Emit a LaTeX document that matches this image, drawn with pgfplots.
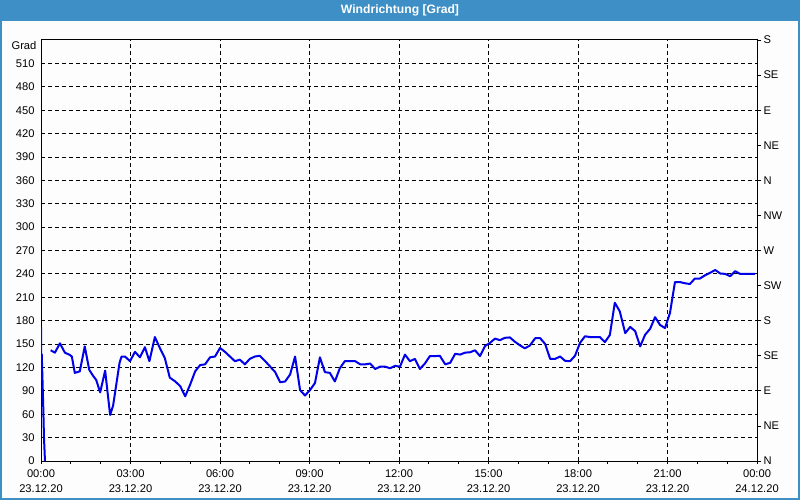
\documentclass[border=0pt]{standalone}
\usepackage{pgfplots}
\pgfplotsset{compat=1.18}
\usepackage{fontspec}
\setmainfont{Liberation Sans}
\definecolor{barblue}{RGB}{61,143,198}
\definecolor{lineblue}{RGB}{0,0,235}
\definecolor{bg}{RGB}{252,253,252}
\newcommand{\tfont}{\fontsize{11.2}{15.5}\selectfont}
\begin{document}
\begin{tikzpicture}
\useasboundingbox (0,0) rectangle (800bp,500bp);
\fill[bg] (0,0) rectangle (800bp,500bp);
\fill[barblue] (0,479bp) rectangle (800bp,500bp);
\draw[barblue, line width=2bp] (1bp,0) -- (1bp,480bp);
\draw[barblue, line width=2bp] (799bp,0) -- (799bp,480bp);
\draw[barblue, line width=2bp] (0,1bp) -- (800bp,1bp);
\node[text=white, font=\bfseries\fontsize{12.2}{14}\selectfont] at (400bp,489.5bp) {Windrichtung [Grad]};
\node[font=\tfont] at (24bp,454bp) {Grad};
\begin{axis}[
  at={(41bp,39bp)}, anchor=south west,
  scale only axis, width=716bp, height=421bp,
  xmin=0, xmax=1440, ymin=0, ymax=540,
  xtick={0,180,...,1440},
  minor xtick={60,120,...,1380},
  xticklabels={{00:00\\23.12.20},{03:00\\23.12.20},{06:00\\23.12.20},{09:00\\23.12.20},{12:00\\23.12.20},{15:00\\23.12.20},{18:00\\23.12.20},{21:00\\23.12.20},{00:00\\24.12.20}},
  xticklabel style={align=center, font=\tfont, yshift=-2bp},
  ytick={0,30,...,510},
  yticklabel style={font=\tfont},
  /pgf/number format/assume math mode=true,
  grid=major,
  major grid style={black, line width=0.8bp, dash pattern=on 4bp off 3bp},
  axis line style={black, line width=1bp},
  tick align=outside, xtick pos=bottom, ytick pos=left,
  major tick length=3bp, minor tick length=3bp,
  ytick style={draw=none},
  xtick style={black, line width=0.8bp},
  minor tick style={black, line width=0.8bp},
  clip=true,
]
\addplot[lineblue, line width=2bp, line join=round] coordinates {
(0,171)(1,104)(1.5,137)(3,104)(4.5,70)(6,30)(8,0)
};
\addplot[lineblue, line width=2bp, line join=round] table {
x y
19.5 142
28 139
38 151
48 139
58 136
62 134
68 113
78 115
88 147
97 117
105 109
111 104
119 88
129 116
139 59
145 71
158 126
162 134
169 134
179 128
189 140
199 133
209 146
218 128
229 159
239 145
249 132
259 107
270 102
280 96
290 83
300 98
310 115
320 123
330 124
340 133
350 134
360 145
370 140
380 134
390 128
400 130
410 124
420 131
430 134
440 135
451 128
461 121
471 114
481 101
491 102
501 111
511 134
521 91
531 84
541 91
551 100
561 133
571 114
581 113
591 102
601 119
611 128
621 128
632 128
642 124
652 124
662 125
672 118
682 121
692 121
702 119
712 122
722 121
732 136.5
742 128
752 131
762 118
772 125
782 134.5
792 134.5
802 135
813 124
823 126
833 137.5
843 136.5
853 139
863 139.5
873 142
883 134.5
893 147.5
903 151.5
913 157
923 155
933 158
943 158.5
953 153
963 148.5
973 144.5
983 148
994 157.5
1004 157.5
1014 150
1024 131
1034 131
1044 134
1054 128.5
1064 128
1074 135
1084 151.5
1094 160
1104 159
1114 159
1124 159
1134 152.5
1144 161.5
1154 203
1164 192
1175 164
1185 172
1195 166.5
1205 147
1215 162
1225 169.5
1235 184.5
1245 174.5
1255 170.5
1265 190
1275 229.5
1285 229.5
1295 228
1305 227
1315 234
1325 234
1335 238
1346 241.5
1356 245
1366 240.5
1376 240
1386 237
1396 243.5
1406 240
1416 240
1426 240
1436 240
};
\end{axis}
\begin{axis}[
  at={(41bp,39bp)}, anchor=south west,
  scale only axis, width=716bp, height=421bp,
  xmin=0, xmax=1440, ymin=0, ymax=540,
  axis y line*=right, axis x line=none,
  ytick={0,45,...,540},
  yticklabels={N,NE,E,SE,S,SW,W,NW,N,NE,E,SE,S},
  yticklabel style={font=\tfont, xshift=-1bp},
  tick align=outside, major tick length=4bp,
  ytick style={black, line width=0.8bp},
  axis line style={black, line width=1bp},
]
\end{axis}
\end{tikzpicture}
\end{document}
